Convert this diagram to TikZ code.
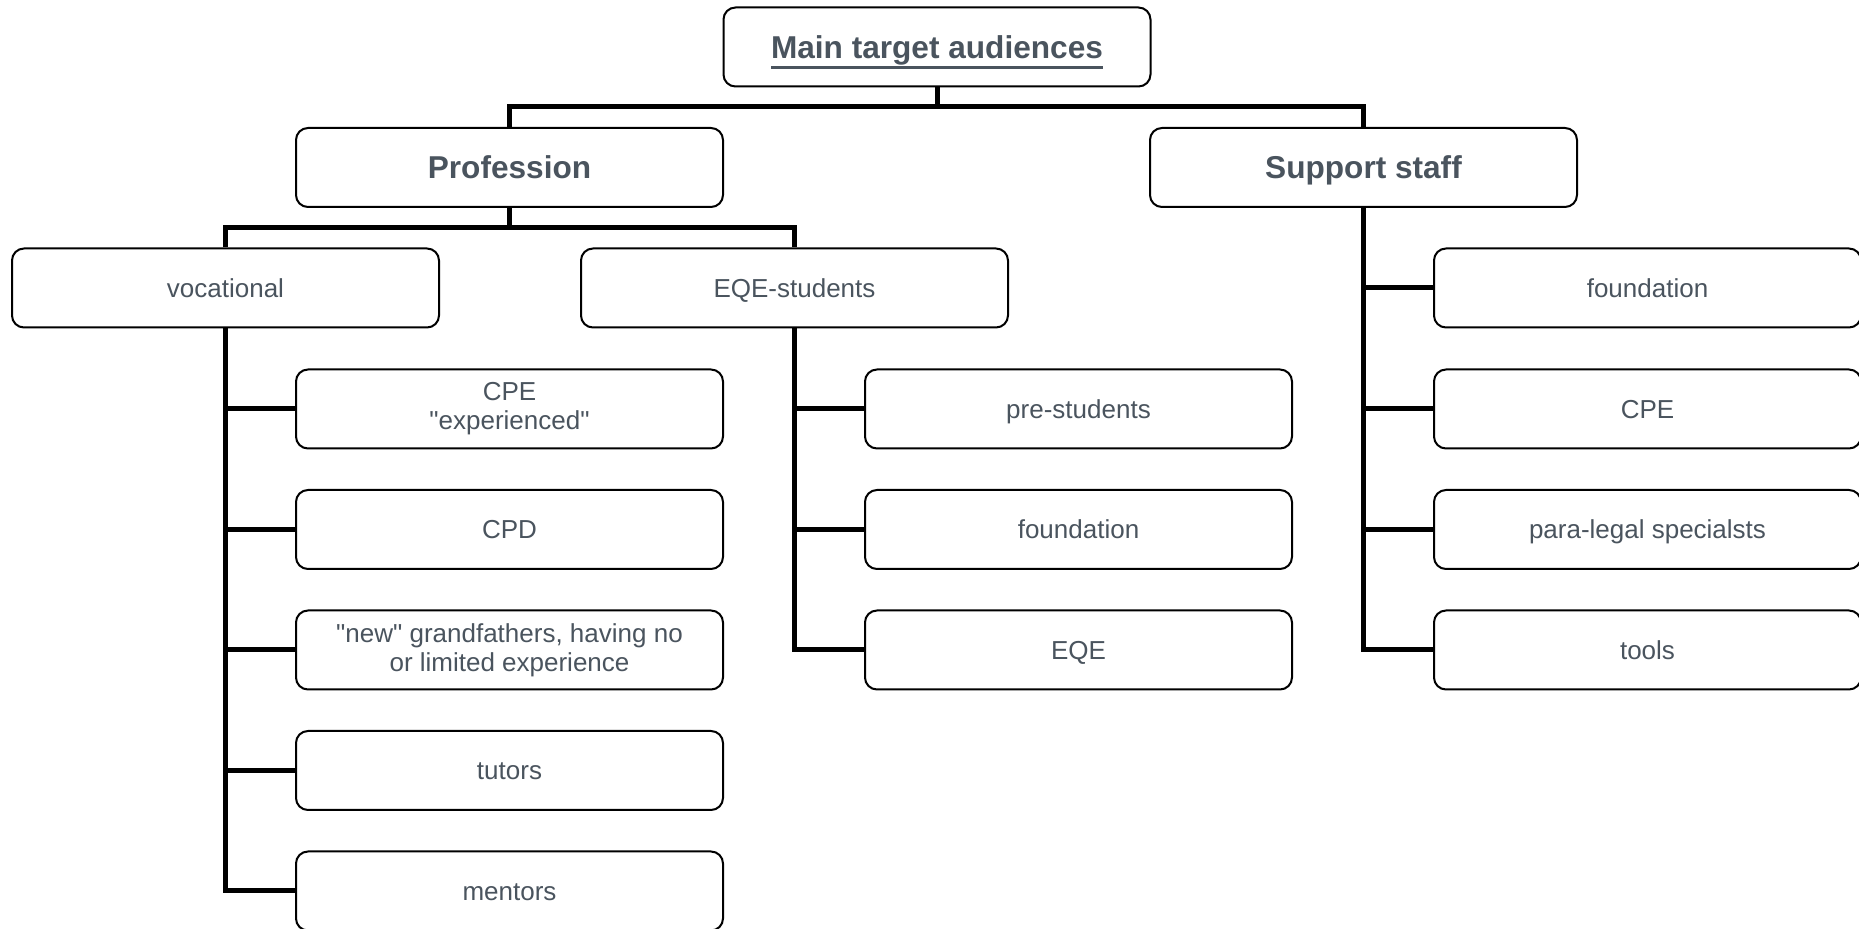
\documentclass[tikz,border=0pt]{standalone}
\usepackage{fontspec}
\setmainfont{Liberation Sans}[Ligatures=TeXOff]
\usetikzlibrary{backgrounds}
\definecolor{txt}{RGB}{74,84,94}
\newcommand\myul[1]{\setbox0\hbox{#1}\rlap{\rule[-5.6pt]{\wd0}{1.8pt}}\box0}
\begin{document}
\begin{tikzpicture}[x=0.5pt,y=-0.5pt,
  box/.style={draw=black,line width=1pt,rounded corners=6pt,fill=white,
    minimum width=213.5pt,minimum height=39.5pt,inner sep=0pt,
    text=txt,align=center,font=\fontsize{13}{14.5}\selectfont},
  one/.style={box,text height=9.4pt,text depth=0pt},
  headbox/.style={box,text height=11.3pt,text depth=0pt,font=\fontsize{15.8}{18}\selectfont\bfseries},
  conn/.style={draw=black,line width=2.5pt,line join=miter,line cap=butt}]
\useasboundingbox (0,0) rectangle (1859,929);

\node[headbox] (top)  at (937,47)    {\myul{Main target audiences}};
\node[headbox] (prof) at (509.5,167.5) {Profession};
\node[headbox] (supp) at (1363.5,167.5) {Support staff};

\node[one] (voc) at (225.5,288) {vocational};
\node[one] (eqe) at (794.5,288) {EQE-students};

\node[box] (v1) at (509.5,409)   {CPE\\"experienced"};
\node[one] (v2) at (509.5,529.5) {CPD};
\node[box] (v3) at (509.5,650)   {"new" grandfathers, having no\\or limited experience};
\node[one] (v4) at (509.5,770.5) {tutors};
\node[one] (v5) at (509.5,891)   {mentors};

\node[one] (e1) at (1078.5,409)   {pre-students};
\node[one] (e2) at (1078.5,529.5) {foundation};
\node[one] (e3) at (1078.5,650)   {EQE};

\node[one] (s1) at (1647.5,288)   {foundation};
\node[one] (s2) at (1647.5,409)   {CPE};
\node[one] (s3) at (1647.5,529.5) {para-legal specialsts};
\node[one] (s4) at (1647.5,650)   {tools};

\coordinate (b1) at (937,107);
\coordinate (b2) at (509.5,228);

\begin{scope}[on background layer]
\draw[conn] (top.south) -- (b1);
\draw[conn] (prof.north) |- (b1) -| (supp.north);
\draw[conn] (prof.south) -- (b2);
\draw[conn] (voc.north) |- (b2) -| (eqe.north);
\foreach \c in {v1,v2,v3,v4,v5} \draw[conn] (voc.south) |- (\c.west);
\foreach \c in {e1,e2,e3} \draw[conn] (eqe.south) |- (\c.west);
\foreach \c in {s1,s2,s3,s4} \draw[conn] (supp.south) |- (\c.west);
\end{scope}
\end{tikzpicture}
\end{document}
